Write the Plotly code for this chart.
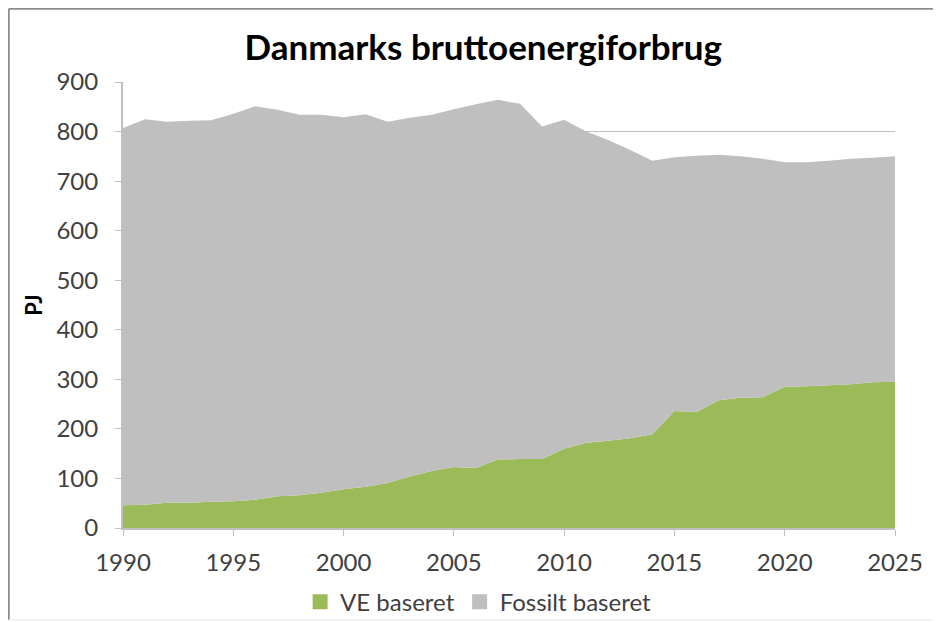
import plotly.graph_objects as go

# years and energy use (PJ)
years = list(range(1990, 2026))
total = [807, 825, 820, 822, 823, 836, 851, 844, 834, 834,
         829, 835, 820, 828, 834, 845, 855, 864, 856, 810,
         824, 800, 783, 763, 741, 748, 751, 753, 750, 745,
         738, 738, 741, 745, 747, 750]
ve = [46, 47, 51, 51, 53, 54, 57, 64, 66, 71,
      78, 83, 91, 104, 115, 123, 121, 138, 139, 139,
      160, 172, 176, 181, 189, 236, 234, 258, 263, 264,
      285, 286, 288, 290, 294, 295]
fossil = [t - v for t, v in zip(total, ve)]

series_names = ['VE baseret', 'Fossilt baseret']
series_colors = ['#9BBB59', '#BFBFBF']

font_family = 'Lato, "Open Sans", sans-serif'

fig = go.Figure()
for name, vals, col in zip(series_names, [ve, fossil], series_colors):
    fig.add_trace(go.Scatter(
        x=years, y=vals, name=name,
        stackgroup='one', mode='none',
        fillcolor=col, showlegend=False
    ))

# square legend keys like the original
for name, col in zip(series_names, series_colors):
    fig.add_trace(go.Scatter(
        x=[None], y=[None], name=name, mode='markers',
        marker=dict(symbol='square', size=15, color=col)
    ))

# frame round the chart (left and top darker, bottom faint)
frame = [
    dict(type='line', xref='paper', yref='paper', x0=-0.148, x1=-0.148, y0=-0.206, y1=1.164,
         line=dict(color='#8C8C8C', width=2)),
    dict(type='line', xref='paper', yref='paper', x0=-0.148, x1=1.1, y0=1.164, y1=1.164,
         line=dict(color='#8C8C8C', width=2)),
    dict(type='line', xref='paper', yref='paper', x0=-0.148, x1=1.1, y0=-0.206, y1=-0.206,
         line=dict(color='#E6E6E6', width=1)),
]

fig.update_layout(
    width=941, height=622,
    paper_bgcolor='white', plot_bgcolor='white',
    margin=dict(l=115, r=54, t=74, b=102, autoexpand=False),
    font=dict(family=font_family, color='#404040', size=24),
    title=dict(text='<b>Danmarks bruttoenergiforbrug</b>',
               x=0.505, xanchor='center', y=0.936, yanchor='middle',
               font=dict(size=35, color='#000000', family=font_family)),
    legend=dict(orientation='h', x=0.46, xanchor='center', y=-0.166, yanchor='middle',
                font=dict(size=24, color='#404040'), traceorder='normal',
                itemwidth=30, bgcolor='rgba(0,0,0,0)'),
    shapes=frame,
)

fig.update_xaxes(
    range=[1990, 2025], tick0=1990, dtick=5,
    showgrid=False, showline=True, linecolor='#BFBFBF', linewidth=2,
    ticks='outside', ticklen=6, tickcolor='#BFBFBF', tickwidth=1,
    ticklabelstandoff=6,
    tickfont=dict(size=24, color='#404040'), zeroline=False
)
fig.update_yaxes(
    range=[0, 900], dtick=100,
    showgrid=True, gridcolor='#BFBFBF', gridwidth=1,
    showline=True, linecolor='#BFBFBF', linewidth=2,
    ticks='outside', ticklen=6, tickcolor='#BFBFBF',
    ticklabelstandoff=12,
    tickfont=dict(size=24, color='#404040'), zeroline=False,
    title=dict(text='<b>PJ</b>', font=dict(size=22, color='#000000'), standoff=8)
)

fig.write_html("out.html")
